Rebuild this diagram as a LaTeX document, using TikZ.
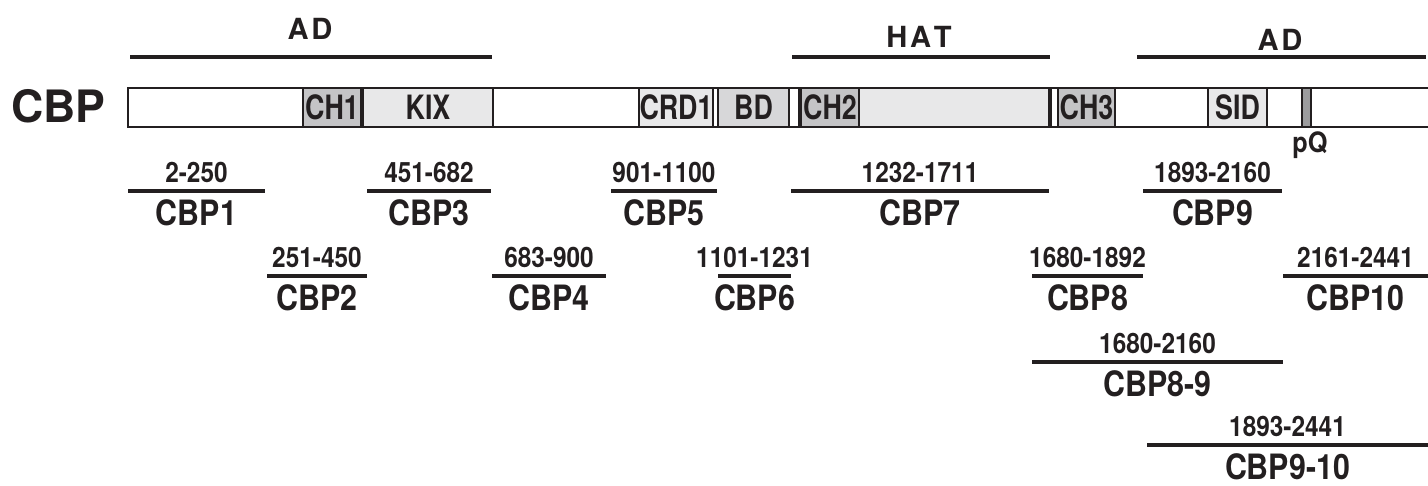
\documentclass[tikz,border=0pt]{standalone}
\usepackage{fontspec}
\setmainfont{TeX Gyre Heros}
\newcommand{\narrowtext}[2][0.87]{\scalebox{#1}[1]{#2}}
\usetikzlibrary{calc}
\definecolor{ink}{HTML}{231F20}
\definecolor{chgray}{HTML}{C4C4C6}
\definecolor{boxlight}{HTML}{E8E8E9}
\definecolor{bdgray}{HTML}{D7D7D9}
\definecolor{pqgray}{HTML}{9C9C9E}
\tikzset{
  regionline/.style = {draw=ink, line width=2.3pt},
  fragline/.style = {draw=ink, line width=2.3pt},
  barline/.style = {draw=ink, line width=1.4pt},
  regionlabel/.style = {font=\bfseries\fontsize{16.5}{18}\selectfont, text=ink, anchor=base, inner sep=0pt},
  rangelabel/.style = {font=\bfseries\fontsize{15.9}{18}\selectfont, text=ink, anchor=base, inner sep=0pt},
  fraglabel/.style = {font=\bfseries\fontsize{19.8}{22}\selectfont, text=ink, anchor=base, inner sep=0pt},
  domainbox/.style = {draw=ink, line width=1.1pt, inner sep=0pt, minimum height=39*0.567pt,
    font=\bfseries\fontsize{19}{21}\selectfont, text=ink},
  bigtitle/.style = {font=\bfseries\fontsize{25.3}{28}\selectfont, text=ink}
}

\begin{document}
\begin{tikzpicture}[x=0.567pt,y=-0.567pt]
  \useasboundingbox (0,0) rectangle (1428,486);
  \pgfmathsetmacro{\bartop}{88}
  \pgfmathsetmacro{\barbot}{127}
  %
  \foreach \name/\xa/\xb/\lbl/\lx/\ly in {adn/130/492/{A\kern1.6pt D}/310/40, hat/792/1050/{H\kern1.6pt A\kern1.6pt T}/919/48,
      adc/1137/1426/{A\kern1.6pt D}/1280/51} {
    \coordinate (\name-l) at (\xa,57);
    \coordinate (\name-r) at (\xb,57);
    \draw[regionline] (\name-l) -- (\name-r);
    \node[regionlabel] (\name-text) at (\lx,\ly) {\lbl};
  }
  %
  \node[bigtitle] (cbp) at (58.5,106) {CBP};
  \fill[white] (128,\bartop) rectangle (1428,\barbot);
  \foreach \name/\xa/\xb/\col/\lbl in {ch1/303/361/chgray/CH1, kix/363/493/boxlight/KIX, crd1/639/713/boxlight/CRD1,
      bd/718/789/bdgray/BD, hatbox/799/1049/boxlight/{}, ch2/801/859/chgray/CH2, gap/1051/1058/white/{},
      ch3/1058/1115/chgray/CH3, sid/1208/1267/boxlight/SID, pq/1302/1311/pqgray/{}} {
    \node[domainbox, fill=\col, minimum width={(\xb-\xa)*0.567pt}] (\name) at ({(\xa+\xb)/2},{(\bartop+\barbot)/2})
      {\narrowtext[0.8]{\lbl}};
  }
  \draw[barline] (1428,\bartop) -| (128,\barbot) -- (1428,\barbot);
  \node[rangelabel] (pq-text) at (1310,153) {\narrowtext[0.9]{pQ}};
  %
  \foreach \name/\xa/\xb/\yl/\range in {CBP1/128/265/191/2-250, CBP2/267/367/276/251-450, CBP3/367/491/191/451-682,
      CBP4/492/606/276/683-900, CBP5/611/717/191/901-1100, CBP6/718/791/276/1101-1231, CBP7/791/1049/191/1232-1711,
      CBP8/1032/1143/276/1680-1892, CBP9/1143/1282/191/1893-2160, CBP10/1283/1428/276/2161-2441,
      CBP8-9/1032/1283/362/1680-2160, CBP9-10/1147/1428/445/1893-2441} {
    \coordinate (\name-l) at (\xa,\yl);
    \coordinate (\name-r) at (\xb,\yl);
    \draw[fragline] (\name-l) -- (\name-r);
    \node[rangelabel] (\name-range) at ($(\name-l)!0.5!(\name-r)+(0,-8.5)$) {\narrowtext{\range}};
    \node[fraglabel] (\name-label) at ($(\name-l)!0.5!(\name-r)+(0,34.5)$) {\narrowtext{\name}};
  }
\end{tikzpicture}
\end{document}
